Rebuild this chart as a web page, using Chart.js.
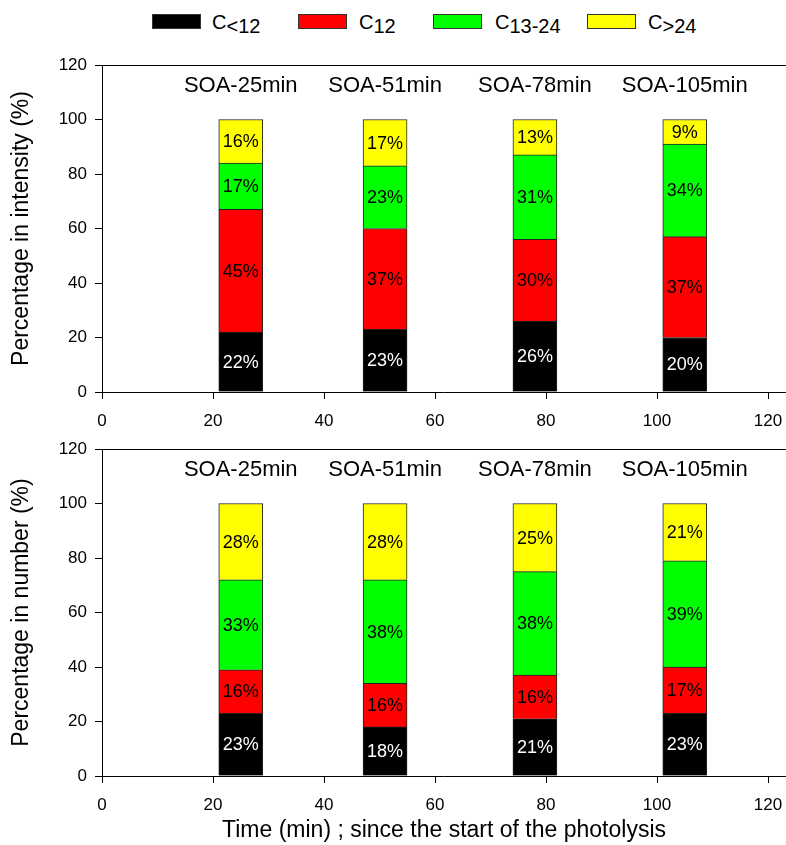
<!DOCTYPE html>
<html>
<head>
<meta charset="utf-8">
<script src="https://cdn.jsdelivr.net/npm/chart.js@4.4.0/dist/chart.umd.min.js"></script>
<style>
  body { margin: 0; background: #fff; font-family: "Liberation Sans", Arial, sans-serif; }
  #wrap { position: relative; width: 786px; height: 845px; overflow: hidden; }
  canvas { position: absolute; left: 0; }
  #cTop { top: 40px; }
  #cBottom { top: 440px; }
  .key { position: absolute; top: 14px; width: 47px; height: 13px; border: 1px solid #333; }
  .lab { position: absolute; top: 10px; font-size: 20px; line-height: 24px; color: #000; white-space: nowrap; }
  .lab span { position: relative; top: 4px; }
</style>
</head>
<body>
<div id="wrap">
  <div class="key" style="left:152px;background:#000000"></div>
  <div class="lab" style="left:212px">C<span>&lt;12</span></div>
  <div class="key" style="left:298px;background:#ff0000"></div>
  <div class="lab" style="left:359px">C<span>12</span></div>
  <div class="key" style="left:433px;background:#00ff00"></div>
  <div class="lab" style="left:495px">C<span>13-24</span></div>
  <div class="key" style="left:587px;background:#ffff00"></div>
  <div class="lab" style="left:648px">C<span>&gt;24</span></div>
  <canvas id="cTop" width="786" height="400"></canvas>
  <canvas id="cBottom" width="786" height="405"></canvas>
</div>
<script>
// sampling times (min) and sample names
const times = [25, 51, 78, 105];
const sampleNames = ['SOA-25min', 'SOA-51min', 'SOA-78min', 'SOA-105min'];

// percentage in intensity (%)
const intLow = [22, 23, 26, 20];    // C<12
const int12 = [45, 37, 30, 37];     // C12
const int1324 = [17, 23, 31, 34];   // C13-24
const intHigh = [16, 17, 13, 9];    // C>24

// percentage in number (%)
const numLow = [23, 18, 21, 23];
const num12 = [16, 16, 16, 17];
const num1324 = [33, 38, 38, 39];
const numHigh = [28, 28, 25, 21];

const seriesNames = ['C<12', 'C12', 'C13-24', 'C>24'];
const seriesColors = ['#000000', '#ff0000', '#00ff00', '#ffff00'];

const FONT = '"Liberation Sans", Arial, sans-serif';

// percentages inside the segments, sample names, top frame line
const barText = {
  id: 'barText',
  afterDatasetsDraw(chart) {
    const ctx = chart.ctx;
    const area = chart.chartArea;
    ctx.save();
    ctx.textAlign = 'center';
    ctx.textBaseline = 'middle';
    ctx.font = '18px ' + FONT;
    chart.data.datasets.forEach((ds, i) => {
      chart.getDatasetMeta(i).data.forEach((bar, j) => {
        ctx.fillStyle = i === 0 ? '#fff' : '#000';
        ctx.fillText(ds.data[j].y + '%', bar.x, (bar.y + bar.base) / 2 + 1);
      });
    });
    ctx.font = '22px ' + FONT;
    ctx.fillStyle = '#000';
    chart.getDatasetMeta(0).data.forEach((bar, j) => {
      ctx.fillText(sampleNames[j], bar.x, area.top + 21);
    });
    ctx.strokeStyle = '#000';
    ctx.lineWidth = 1;
    ctx.beginPath();
    ctx.moveTo(area.left, area.top + 0.5);
    ctx.lineTo(area.right, area.top + 0.5);
    ctx.stroke();
    ctx.restore();
  }
};

function makeChart(id, values, yTitle, showXTitle, padTop, xHeight) {
  return new Chart(document.getElementById(id), {
    type: 'bar',
    data: {
      datasets: values.map((arr, i) => ({
        label: seriesNames[i],
        data: times.map((t, j) => ({ x: t, y: arr[j] })),
        backgroundColor: seriesColors[i],
        borderColor: '#222',
        borderWidth: 1,
        barThickness: 44
      }))
    },
    options: {
      responsive: false,
      animation: false,
      layout: { padding: { top: padTop, left: 0, right: 0, bottom: 0 } },
      plugins: { legend: { display: false }, tooltip: { enabled: false } },
      scales: {
        x: {
          type: 'linear',
          stacked: true,
          offset: false,
          min: 0,
          max: 123.24,
          border: { display: true, color: '#000', width: 1 },
          grid: { display: true, offset: false, drawOnChartArea: false, drawTicks: true, tickLength: 7, color: '#000' },
          ticks: { stepSize: 20, includeBounds: false, color: '#000', padding: 12, maxRotation: 0, font: { family: FONT, size: 17 } },
          title: {
            display: showXTitle,
            text: 'Time (min) ; since the start of the photolysis',
            color: '#000',
            font: { family: FONT, size: 23 },
            padding: { top: 0, bottom: 1 }
          },
          afterFit(scale) {
            scale.height = xHeight;
            scale.paddingLeft = 0;
            scale.paddingRight = 0;
          }
        },
        y: {
          stacked: true,
          min: 0,
          max: 120,
          border: { display: true, color: '#000', width: 1 },
          grid: { display: true, drawOnChartArea: false, drawTicks: true, tickLength: 7, color: '#000' },
          ticks: { stepSize: 20, color: '#000', padding: 8, font: { family: FONT, size: 17 } },
          title: {
            display: true,
            text: yTitle,
            color: '#000',
            font: { family: FONT, size: 23 },
            padding: { top: 8, bottom: 0 }
          },
          afterFit(scale) {
            scale.width = 102;
            scale.paddingTop = 0;
            scale.paddingBottom = 0;
          }
        }
      }
    },
    plugins: [barText]
  });
}

makeChart('cTop', [intLow, int12, int1324, intHigh], 'Percentage in intensity (%)', false, 25, 48);
makeChart('cBottom', [numLow, num12, num1324, numHigh], 'Percentage in number (%)', true, 9, 69);
</script>
</body>
</html>
